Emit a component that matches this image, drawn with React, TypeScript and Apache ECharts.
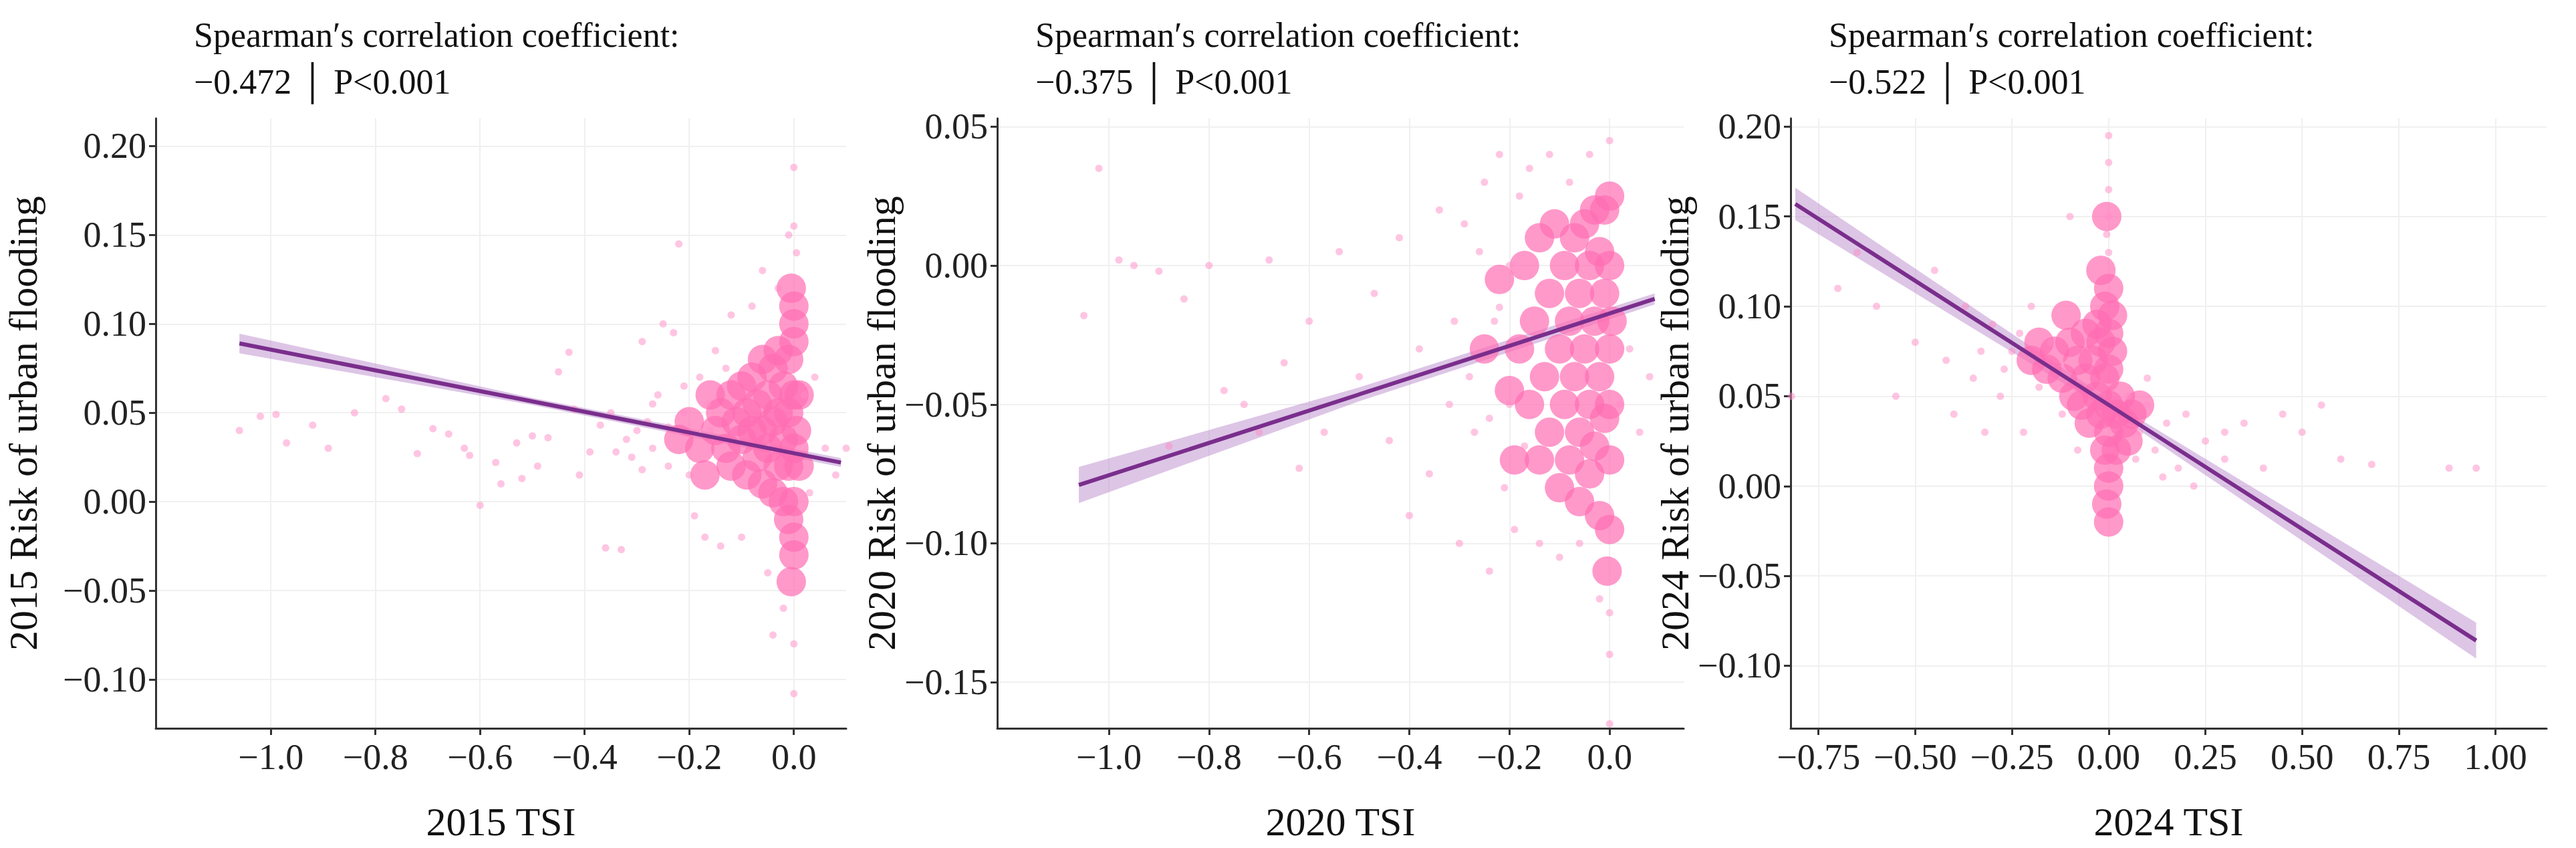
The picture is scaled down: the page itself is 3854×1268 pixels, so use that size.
import { useEffect, useRef } from "react";
import * as echarts from "echarts";

// panel 2015
const sparse15 = [[-1.06,0.04],[-1.02,0.048],[-0.99,0.049],[-0.97,0.033],[-0.92,0.043],[-0.89,0.03],[-0.84,0.05],[-0.78,0.058],[-0.75,0.052],[-0.72,0.027],[-0.69,0.041],[-0.66,0.038],[-0.63,0.03],[-0.62,0.026],[-0.6,-0.002],[-0.57,0.022],[-0.56,0.01],[-0.53,0.033],[-0.52,0.013],[-0.5,0.037],[-0.49,0.02],[-0.47,0.036],[-0.45,0.073],[-0.43,0.084],[-0.42,0.052],[-0.41,0.015],[-0.39,0.028],[-0.37,0.043],[-0.36,-0.026],[-0.35,0.05],[-0.33,-0.027],[-0.32,0.035],[-0.31,0.025],[-0.3,0.04],[-0.29,0.09],[-0.28,0.045],[-0.27,0.03],[-0.26,0.06],[-0.25,0.1],[-0.24,0.02],[-0.23,0.095],[-0.22,0.145],[-0.21,0.05],[-0.2,0.015],[-0.19,-0.008],[-0.18,0.07],[-0.17,-0.02],[-0.16,0.04],[-0.15,0.085],[-0.14,-0.025],[-0.12,0.105],[-0.1,-0.02],[-0.08,0.11],[-0.06,0.13],[-0.05,-0.04],[-0.04,-0.075],[-0.03,0.12],[-0.02,-0.06],[-0.01,0.15],[0.0,0.188],[0.0,-0.108],[0.0,-0.08],[0.0,0.155],[0.005,0.14],[0.02,0.06],[0.04,0.07],[0.06,0.03],[0.08,0.015],[0.1,0.03],[0.03,0.005],[-0.34,0.028],[-0.29,0.018],[-0.27,0.055],[-0.24,0.042],[-0.21,0.065],[-0.19,0.038],[-0.165,0.055],[-0.13,0.075]];
const core15 = [[-0.15,0.04],[-0.14,0.05],[-0.13,0.03],[-0.12,0.06],[-0.12,0.02],[-0.11,0.045],[-0.1,0.035],[-0.1,0.065],[-0.09,0.05],[-0.09,0.015],[-0.08,0.04],[-0.08,0.07],[-0.07,0.025],[-0.07,0.055],[-0.06,0.04],[-0.06,0.08],[-0.06,0.01],[-0.05,0.03],[-0.05,0.06],[-0.04,0.045],[-0.04,0.075],[-0.04,0.005],[-0.03,0.02],[-0.03,0.05],[-0.03,0.085],[-0.02,0.035],[-0.02,0.065],[-0.02,0.0],[-0.01,0.02],[-0.01,0.05],[-0.01,0.08],[-0.01,-0.01],[0,0.1],[0,0.06],[0,0.03],[0,0.0],[0,-0.02],[0,-0.03],[0,0.09],[0,0.11],[-0.005,0.12],[-0.005,-0.045],[0.005,0.04],[0.01,0.02],[0.01,0.06],[-0.16,0.06],[-0.18,0.03],[-0.2,0.045],[-0.22,0.035],[-0.17,0.015]];
const fit15 = [[-1.06,0.089],[0.09,0.022]];
const band15 = [[-1.06,0.0055],[-0.5,0.002],[0.09,0.0025]];

// panel 2020
const sparse20 = [[-1.02,0.035],[-0.98,0.002],[-0.95,0.0],[-0.9,-0.002],[-0.85,-0.012],[-0.8,0.0],[-0.77,-0.045],[-0.73,-0.05],[-0.7,-0.06],[-0.65,-0.035],[-0.62,-0.073],[-0.6,-0.02],[-0.57,-0.06],[-0.54,0.005],[-0.5,-0.04],[-0.47,-0.01],[-0.44,-0.063],[-0.42,0.01],[-0.4,-0.09],[-0.38,-0.03],[-0.36,-0.075],[-0.34,0.02],[-0.32,-0.05],[-0.3,-0.1],[-0.29,0.015],[-0.27,-0.06],[-0.25,0.03],[-0.24,-0.11],[-0.23,-0.02],[-0.22,0.04],[-0.21,-0.08],[-0.2,0.0],[-0.19,-0.095],[-0.18,0.025],[-0.17,-0.065],[-0.16,0.035],[-0.14,-0.1],[-0.12,0.04],[-0.1,-0.105],[-0.08,0.03],[-0.06,-0.1],[-0.04,0.04],[-0.02,-0.12],[0,0.045],[0,-0.18],[0,-0.165],[0,-0.14],[0,-0.125],[0.02,-0.05],[0.04,-0.03],[0.06,-0.06],[0.08,-0.04],[-1.05,-0.018],[-0.88,-0.065],[-0.68,0.002],[-0.31,-0.02],[-0.28,-0.04],[-0.26,0.005],[-0.24,-0.055],[-0.22,-0.015],[-0.2,-0.05]];
const core20 = [[-0.18,-0.03],[-0.17,0.0],[-0.16,-0.05],[-0.15,-0.02],[-0.14,0.01],[-0.14,-0.07],[-0.13,-0.04],[-0.12,-0.01],[-0.12,-0.06],[-0.11,0.015],[-0.1,-0.03],[-0.1,-0.08],[-0.09,0.0],[-0.09,-0.05],[-0.08,-0.02],[-0.08,-0.07],[-0.07,0.01],[-0.07,-0.04],[-0.06,-0.01],[-0.06,-0.06],[-0.06,-0.085],[-0.05,0.015],[-0.05,-0.03],[-0.04,-0.05],[-0.04,0.0],[-0.04,-0.075],[-0.03,-0.02],[-0.03,0.02],[-0.03,-0.065],[-0.02,-0.04],[-0.02,0.005],[-0.02,-0.09],[-0.01,-0.01],[-0.01,-0.055],[-0.01,0.02],[0,-0.03],[0,0.0],[0,-0.07],[0,-0.095],[0,0.025],[0,-0.05],[-0.005,-0.11],[0.005,-0.02],[-0.2,-0.045],[-0.22,-0.005],[-0.19,-0.07],[-0.25,-0.03]];
const fit20 = [[-1.06,-0.079],[0.09,-0.012]];
const band20 = [[-1.06,0.0065],[-0.5,0.0025],[0.09,0.002]];

// panel 2024
const sparse24 = [[-0.82,0.05],[-0.7,0.11],[-0.65,0.13],[-0.6,0.1],[-0.55,0.05],[-0.5,0.08],[-0.45,0.12],[-0.42,0.07],[-0.4,0.04],[-0.37,0.1],[-0.35,0.06],[-0.32,0.03],[-0.3,0.09],[-0.28,0.05],[-0.25,0.075],[-0.22,0.03],[-0.2,0.1],[-0.18,0.055],[-0.15,0.08],[-0.12,0.04],[-0.1,0.15],[-0.08,0.02],[0.05,0.05],[0.08,0.03],[0.1,0.045],[0.12,0.02],[0.15,0.035],[0.18,0.01],[0.2,0.04],[0.25,0.025],[0.3,0.015],[0.35,0.035],[0.4,0.01],[0.45,0.04],[0.5,0.03],[0.55,0.045],[0.6,0.015],[0.68,0.012],[0.88,0.01],[0.95,0.01],[0.22,0.0],[0.14,0.005],[0.1,0.06],[0,0.195],[0,0.18],[0,0.165],[0,0.15],[-0.005,0.14],[0,0.13],[-0.27,0.065],[-0.23,0.085],[-0.33,0.075],[0.3,0.03],[0.07,0.015]];
const core24 = [[-0.02,0.12],[0,0.11],[-0.01,0.1],[-0.03,0.09],[0,0.085],[-0.02,0.08],[-0.04,0.07],[0,0.065],[-0.01,0.06],[-0.03,0.05],[0,0.045],[-0.02,0.04],[0,0.03],[-0.01,0.02],[0,0.01],[0,0.0],[-0.005,-0.01],[0,-0.02],[-0.06,0.06],[-0.08,0.07],[-0.1,0.08],[-0.12,0.06],[-0.14,0.075],[-0.07,0.045],[-0.09,0.05],[-0.16,0.065],[-0.18,0.08],[-0.2,0.07],[0.02,0.04],[0.04,0.035],[0.03,0.05],[0.06,0.04],[0.08,0.045],[0.05,0.025],[0.02,0.02],[-0.05,0.035],[-0.11,0.095],[-0.06,0.085],[0.01,0.075],[0.01,0.095],[-0.005,0.15]];
const fit24 = [[-0.81,0.157],[0.95,-0.086]];
const band24 = [[-0.81,0.009],[0.05,0.003],[0.95,0.01]];

const panels = [
  { year: "2015", rho: "\u22120.472", sparse: sparse15, core: core15, fit: fit15, band: band15, gap: 168,
    x: [-1.22, 0.1], y: [-0.1275, 0.2156], xt: [-1.0, -0.8, -0.6, -0.4, -0.2, 0.0], yt: [-0.1, -0.05, 0, 0.05, 0.1, 0.15, 0.2], xd: 1, grid: [233, 1033] },
  { year: "2020", rho: "\u22120.375", sparse: sparse20, core: core20, fit: fit20, band: band20, gap: 120,
    x: [-1.223, 0.148], y: [-0.1666, 0.053], xt: [-1.0, -0.8, -0.6, -0.4, -0.2, 0.0], yt: [-0.15, -0.1, -0.05, 0, 0.05], xd: 1, grid: [1492, 1027] },
  { year: "2024", rho: "\u22120.522", sparse: sparse24, core: core24, fit: fit24, band: band24, gap: 112,
    x: [-0.822, 1.132], y: [-0.1348, 0.2046], xt: [-0.75, -0.5, -0.25, 0, 0.25, 0.5, 0.75, 1.0], yt: [-0.1, -0.05, 0, 0.05, 0.1, 0.15, 0.2], xd: 2, grid: [2679, 1131] },
];

const FONT = "Liberation Serif";
const fmt = (v: number, d: number) => (v < 0 ? "\u2212" : "") + Math.abs(v).toFixed(d);
const lerp = (f: number[][], x: number) => f[0][1] + ((f[1][1] - f[0][1]) * (x - f[0][0])) / (f[1][0] - f[0][0]);

function App() {
  const ref = useRef<HTMLDivElement>(null);

  useEffect(() => {
    document.body.style.margin = "0";
    if (!ref.current) return;
    const chart = echarts.init(ref.current, undefined, { renderer: "svg" });

    const grid: any[] = [], xAxis: any[] = [], yAxis: any[] = [], series: any[] = [], title: any[] = [];
    panels.forEach((p, i) => {
      grid.push({ left: p.grid[0], width: p.grid[1], top: 177, height: 912 });
      title.push({
        text: "Spearman\u2032s correlation coefficient:\n" + p.rho + " \u2502 P<0.001",
        left: p.grid[0] + 52, top: 12,
        textStyle: { fontFamily: FONT, fontSize: 52, fontWeight: "normal", color: "#111", lineHeight: 70 },
      });
      const axisCommon = {
        axisLine: { show: true, onZero: false, lineStyle: { color: "#333", width: 3 } },
        axisTick: { show: true, length: 10, lineStyle: { color: "#333", width: 3 } },
        splitLine: { show: true, lineStyle: { color: "#f0f0f0", width: 2 } },
        nameTextStyle: { fontFamily: FONT, fontSize: 60, color: "#111" },
      };
      xAxis.push({
        gridIndex: i, type: "value", min: p.x[0], max: p.x[1],
        name: p.year + " TSI", nameLocation: "middle", nameGap: 110,
        ...axisCommon,
        axisTick: { ...axisCommon.axisTick, customValues: p.xt },
        axisLabel: { customValues: p.xt, fontFamily: FONT, fontSize: 54, color: "#222", margin: 16, formatter: (v: number) => fmt(v, p.xd) },
      });
      yAxis.push({
        gridIndex: i, type: "value", min: p.y[0], max: p.y[1],
        name: p.year + " Risk of urban flooding", nameLocation: "middle", nameGap: p.gap,
        ...axisCommon,
        axisTick: { ...axisCommon.axisTick, customValues: p.yt },
        axisLabel: { customValues: p.yt, fontFamily: FONT, fontSize: 54, color: "#222", margin: 14, formatter: (v: number) => fmt(v, 2) },
      });
      const pt = { xAxisIndex: i, yAxisIndex: i, type: "scatter", silent: true };
      series.push({ ...pt, data: p.core, symbolSize: 44, itemStyle: { color: "#ff6eb4", opacity: 0.7 } });
      series.push({ ...pt, data: p.sparse, symbolSize: 11, itemStyle: { color: "#ff8cc6", opacity: 0.5 } });
      series.push({
        xAxisIndex: i, yAxisIndex: i, type: "custom", silent: true, data: [[0, 0]],
        renderItem: (_params: any, api: any) => {
          const up = p.band.map((b) => api.coord([b[0], lerp(p.fit, b[0]) + b[1]]));
          const lo = p.band.map((b) => api.coord([b[0], lerp(p.fit, b[0]) - b[1]])).reverse();
          return { type: "polygon", shape: { points: [...up, ...lo] }, style: { fill: "rgba(179,127,200,0.45)" } };
        },
      });
      series.push({ xAxisIndex: i, yAxisIndex: i, type: "line", symbol: "none", silent: true, data: p.fit, lineStyle: { color: "#7a2e8c", width: 6 } });
    });

    chart.setOption({ animation: false, backgroundColor: "#fff", title, grid, xAxis, yAxis, series });
    return () => chart.dispose();
  }, []);

  return <div ref={ref} style={{ width: "3854px", height: "1268px" }} />;
}

export default App;
